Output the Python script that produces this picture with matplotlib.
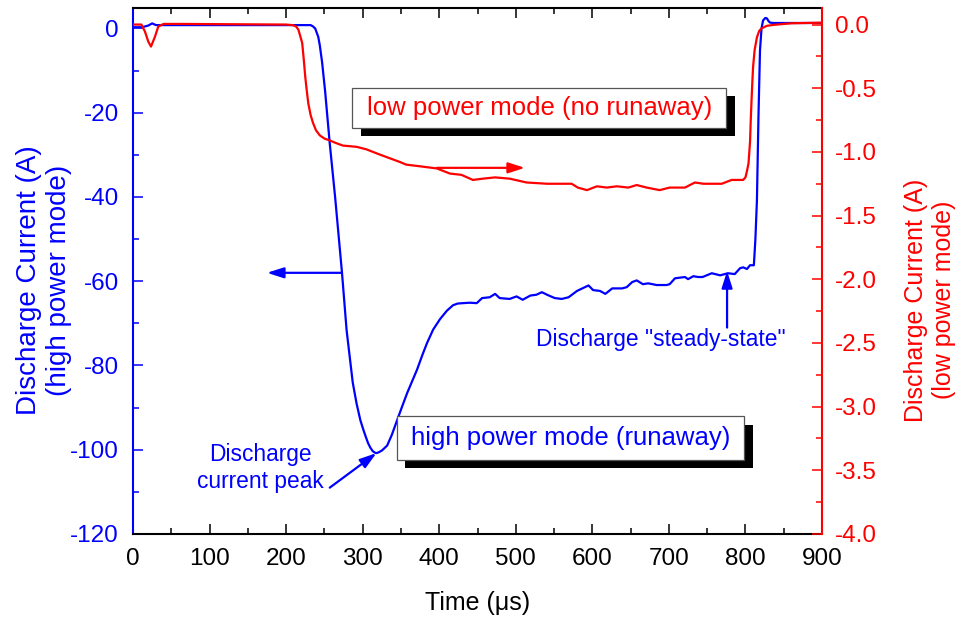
import numpy as np
import matplotlib
matplotlib.use('Agg')
import matplotlib.pyplot as plt
from matplotlib.patches import Rectangle
from matplotlib.ticker import MultipleLocator

plt.rcParams['font.family'] = ['Liberation Sans', 'DejaVu Sans']
plt.rcParams['axes.unicode_minus'] = False

BLUE = '#0000FF'
RED = '#FF0000'

# High power mode (runaway): time (us) and discharge current (A)
t_high = [0, 12, 20, 25, 30, 40, 120, 232, 235, 238, 240, 242, 244, 247, 251,
          257, 264, 273, 279, 287, 292, 297, 301, 304, 307, 310, 313, 316, 318,
          321, 325, 328, 332, 338, 345, 351, 358, 364, 371, 378, 384, 392, 401,
          410, 418, 424, 431, 440, 449,
          456, 466, 473, 479, 492, 501, 509, 519, 527, 534, 542, 551, 560, 569,
          580, 595, 601, 610, 617, 626, 639, 645, 652, 658, 666, 673, 684, 697,
          701, 708, 721, 725, 732, 738, 744, 756, 767, 777, 786, 793, 797, 802,
          806, 811, 813, 815, 817, 819, 821, 823, 826, 828, 830, 832, 836, 841,
          860, 900]
i_high = [0.3, 0.3, 0.7, 1.2, 0.8, 0.8, 0.8, 0.8, 0.5, 0.0, -1.0, -2.0, -4.0,
          -8.0, -15.0, -27.3, -40.0, -58.0, -71.6, -84.0, -89.0, -93.0, -95.3,
          -96.9, -98.4, -99.5, -100.3, -100.7, -100.8, -100.6, -100.2, -99.7,
          -99.0, -96.5, -93.0, -90.0, -86.6, -84.0, -81.0, -77.5, -74.7, -71.5,
          -69.0, -67.0, -65.7, -65.3, -65.2, -65.1, -65.2,
          -64.0, -63.8, -63.0, -64.0,
          -64.2, -63.6, -64.4, -63.4, -63.2, -62.6, -63.3, -64.0, -64.2, -63.8,
          -62.3, -61.0, -62.1, -62.3, -63.0, -61.7, -61.7, -61.4, -60.2, -59.8,
          -60.7, -60.5, -60.9, -60.9, -60.7, -59.3, -59.0, -59.5, -58.8, -59.0,
          -59.0, -58.1, -58.6, -58.1, -58.3, -56.9, -56.7, -57.1, -56.2, -56.2,
          -50.0, -40.8, -21.0, -5.2, 0.0, 1.9, 2.5, 2.4, 1.8, 1.4, 1.3, 1.3,
          1.3, 1.3]

# Low power mode (no runaway): time (us) and discharge current (A)
t_low = [0, 11, 15.6, 20, 23.5, 28.7, 33, 40, 60, 200, 209, 213, 216, 218, 221,
         223, 225, 227, 229, 232, 235, 239, 244, 250, 257, 265, 274, 283, 292,
         305, 322, 340, 349, 357, 371, 397, 414, 429,
         444, 457, 473, 492, 514, 541, 573, 581, 593, 606, 619, 632, 647, 658,
         671, 688, 701, 721, 734, 745, 769, 782, 797, 800, 802, 804, 806, 807,
         808, 809, 810, 812, 815, 818, 821, 828, 836, 860, 900]
i_low = [0.0, 0.0, -0.055, -0.134, -0.173, -0.095, -0.016, 0.005, 0.005, 0.0,
         -0.005, -0.015, -0.04, -0.08, -0.145, -0.27, -0.41, -0.52, -0.62, -0.71,
         -0.77, -0.83, -0.87, -0.895, -0.91, -0.93, -0.95, -0.955, -0.96,
         -0.98, -1.02, -1.06, -1.08, -1.10, -1.11, -1.13, -1.17, -1.18, -1.22,
         -1.21, -1.20, -1.21, -1.24, -1.25, -1.25, -1.28, -1.30, -1.27, -1.28,
         -1.27, -1.28, -1.26, -1.28, -1.30, -1.28, -1.28, -1.24, -1.25, -1.25,
         -1.22, -1.22, -1.20, -1.15, -1.09, -0.92, -0.74, -0.59, -0.45, -0.33,
         -0.20, -0.10, -0.05, -0.03, -0.01, -0.003, 0.01, 0.015]

x_ticks = np.arange(0, 901, 100)
left_ticks = np.arange(-120, 1, 20)
right_ticks = np.arange(-4.0, 0.01, 0.5)

fig = plt.figure(figsize=(9.63, 6.17), dpi=100)
ax = fig.add_axes([133 / 963, 83 / 617, 689 / 963, 526 / 617])
ax2 = ax.twinx()

ax.plot(t_high, i_high, color=BLUE, lw=1.6, zorder=2, solid_joinstyle='round')
ax2.plot(t_low, i_low, color=RED, lw=1.6, zorder=2, solid_joinstyle='round')

ax.set_xlim(0, 900)
ax.set_ylim(-120, 4.86)
ax2.set_ylim(-4.0, 0.13)

ax.set_xticks(x_ticks)
ax.set_xticklabels([str(v) for v in x_ticks])
ax.xaxis.set_minor_locator(MultipleLocator(50))
ax.set_yticks(left_ticks)
ax.set_yticklabels([str(v) for v in left_ticks])
ax.yaxis.set_minor_locator(MultipleLocator(10))
ax2.set_yticks(right_ticks)
ax2.set_yticklabels([f'{v:.1f}' for v in right_ticks])
ax2.yaxis.set_minor_locator(MultipleLocator(0.25))

for a in (ax, ax2):
    for s in a.spines.values():
        s.set_linewidth(1.5)
ax.spines['right'].set_visible(False)
ax2.spines['left'].set_visible(False)
ax2.spines['top'].set_visible(False)
ax2.spines['bottom'].set_visible(False)
ax.spines['left'].set_color(BLUE)
ax2.spines['right'].set_color(RED)

ax.tick_params(axis='x', which='both', direction='in', top=True, bottom=True,
               labelsize=17.5, pad=10, colors='black', width=1.1)
ax.tick_params(axis='x', which='major', length=7)
ax.tick_params(axis='x', which='minor', length=4.3)
ax.tick_params(axis='y', which='both', direction='in', left=True, right=False,
               labelsize=17.5, pad=10, colors=BLUE, width=1.1)
ax.tick_params(axis='y', which='major', length=7)
ax.tick_params(axis='y', which='minor', length=4.3)
ax2.tick_params(axis='y', which='both', direction='in', right=True, left=False,
                labelsize=17.5, pad=9.5, colors=RED, width=1.1)
ax2.tick_params(axis='y', which='major', length=7)
ax2.tick_params(axis='y', which='minor', length=4.3)

# axis titles
fig.text(477.5 / 963, 1 - 603 / 617, 'Time (\u03bcs)', ha='center', va='center',
         fontsize=18)
fig.text(44 / 963, 1 - 280 / 617, 'Discharge Current (A)\n(high power mode)',
         rotation=90, ha='center', va='center', multialignment='center',
         fontsize=20, color=BLUE)
fig.text(930 / 963, 1 - 300 / 617, 'Discharge Current (A)\n(low power mode)',
         rotation=90, ha='center', va='center', multialignment='center',
         fontsize=18, color=RED)


def shadow_box(axis, x0, x1, y0, y1, text, color):
    dx, dy = 8.5 / 689, 8.5 / 526
    axis.add_patch(Rectangle((x0 + dx, y0 - dy), x1 - x0, y1 - y0,
                             transform=axis.transAxes, facecolor='black',
                             edgecolor='none', zorder=5))
    axis.add_patch(Rectangle((x0, y0), x1 - x0, y1 - y0,
                             transform=axis.transAxes, facecolor='white',
                             edgecolor='#555555', lw=0.9, zorder=6))
    axis.text((x0 + x1) / 2, (y0 + y1) / 2, text, transform=axis.transAxes,
              ha='center', va='center', fontsize=18.5, color=color, zorder=7)


shadow_box(ax2, 0.318, 0.861, 0.772, 0.848, 'low power mode (no runaway)', RED)
shadow_box(ax, 0.383, 0.887, 0.141, 0.224, 'high power mode (runaway)', BLUE)

arrow = dict(arrowstyle='-|>,head_length=1.0,head_width=0.32', lw=1.6,
             shrinkA=0, shrinkB=0, mutation_scale=10)

# pointer to the current peak
ax.annotate('', xy=(318, -100.8), xytext=(257, -109),
            arrowprops=dict(arrow, color=BLUE))
ax.text(166, -104.3, 'Discharge\ncurrent peak', ha='center', va='center',
        multialignment='center', fontsize=16.4, color=BLUE)

# pointer to the steady-state plateau
ax.annotate('', xy=(776, -57.6), xytext=(776, -71),
            arrowprops=dict(arrow, color=BLUE))
ax.text(690, -73.9, 'Discharge "steady-state"', ha='center', va='center',
        fontsize=16.4, color=BLUE)

# axis-assignment arrows
ax.annotate('', xy=(175, -58), xytext=(273, -58),
            arrowprops=dict(arrow, color=BLUE))
ax2.annotate('', xy=(512, -1.125), xytext=(397, -1.125),
             arrowprops=dict(arrow, color=RED))

fig.savefig('out.png', dpi=100)
